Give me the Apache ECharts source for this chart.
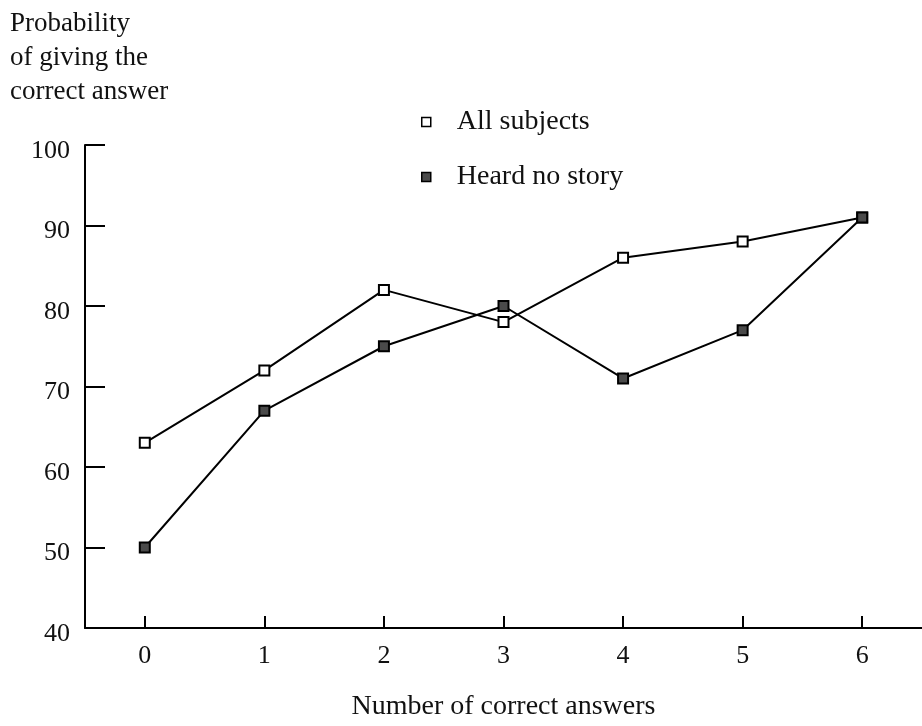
<!DOCTYPE html>
<html>
<head>
<meta charset="utf-8">
<script src="https://cdn.jsdelivr.net/npm/echarts@6/dist/echarts.min.js"></script>
<style>
html,body{margin:0;padding:0;background:#fff;}
#chart{width:922px;height:726px;}
</style>
</head>
<body>
<div id="chart"></div>
<script>
const categories = ['0', '1', '2', '3', '4', '5', '6'];
const allSubjects = [63, 72, 82, 78, 86, 88, 91];
const heardNoStory = [50, 67, 75, 80, 71, 77, 91];
const yTicks = { min: 40, max: 100, interval: 10 };
const titleText = 'Probability\nof giving the\ncorrect answer';
const xName = 'Number of correct answers';

const FONT = 'Liberation Serif';
const INK = '#111';

const chart = echarts.init(document.getElementById('chart'), null, { renderer: 'canvas' });
chart.setOption({
  backgroundColor: '#fff',
  animation: false,
  title: {
    text: titleText,
    left: 10,
    top: 7,
    padding: 0,
    textStyle: { fontFamily: FONT, fontSize: 27, lineHeight: 34, fontWeight: 'normal', color: INK }
  },
  legend: {
    orient: 'vertical',
    left: 421,
    top: 108,
    padding: 0,
    itemGap: 27,
    itemWidth: 9,
    itemHeight: 9,
    icon: 'rect',
    textStyle: { fontFamily: FONT, fontSize: 28, color: INK, padding: [0, 0, 0, 21] },
    data: [
      { name: 'All subjects', itemStyle: { color: '#fff', borderColor: '#000', borderWidth: 1.5 } },
      { name: 'Heard no story', itemStyle: { color: '#4a4a4a', borderColor: '#000', borderWidth: 1.5 } }
    ]
  },
  grid: { left: 85, right: -12, top: 145, bottom: 97, containLabel: false },
  xAxis: {
    type: 'category',
    data: categories,
    boundaryGap: true,
    name: xName,
    nameLocation: 'middle',
    nameGap: 65,
    nameTextStyle: { fontFamily: FONT, fontSize: 28, color: INK },
    axisLine: { show: true, lineStyle: { color: '#000', width: 2 } },
    axisTick: { show: true, inside: true, alignWithLabel: true, length: 12, lineStyle: { color: '#000', width: 2 } },
    axisLabel: { fontFamily: FONT, fontSize: 26, color: INK, margin: 15 },
    splitLine: { show: false }
  },
  yAxis: {
    type: 'value',
    min: yTicks.min,
    max: yTicks.max,
    interval: yTicks.interval,
    axisLine: { show: true, lineStyle: { color: '#000', width: 2 } },
    axisTick: { show: true, inside: true, length: 20, lineStyle: { color: '#000', width: 2 } },
    axisLabel: { fontFamily: FONT, fontSize: 26, color: INK, margin: 15, verticalAlign: 'top', lineHeight: 12 },
    splitLine: { show: false }
  },
  series: [
    {
      name: 'All subjects',
      type: 'line',
      data: allSubjects,
      symbol: 'rect',
      symbolSize: 10,
      showAllSymbol: true,
      lineStyle: { color: '#000', width: 2 },
      itemStyle: { color: '#fff', borderColor: '#000', borderWidth: 2 },
      z: 3
    },
    {
      name: 'Heard no story',
      type: 'line',
      data: heardNoStory,
      symbol: 'rect',
      symbolSize: 10,
      showAllSymbol: true,
      lineStyle: { color: '#000', width: 2 },
      itemStyle: { color: '#4a4a4a', borderColor: '#000', borderWidth: 2 },
      z: 4
    }
  ]
});
</script>
</body>
</html>
